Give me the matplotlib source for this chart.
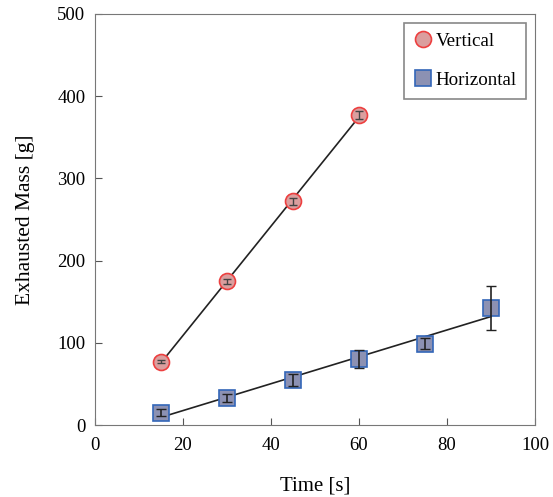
import numpy as np
import matplotlib
matplotlib.use('Agg')
import matplotlib.pyplot as plt

plt.rcParams['font.family'] = ['Liberation Serif', 'DejaVu Serif']

# data
vert_t = [15, 30, 45, 60]
vert_m = [77, 175, 272, 377]
vert_err = [2, 3, 4, 5]

horiz_t = [15, 30, 45, 60, 75, 90]
horiz_m = [15, 33, 55, 80, 99, 142]
horiz_err = [4, 5, 7, 11, 7, 27]

fig = plt.figure(figsize=(5.53, 4.97), dpi=100)
ax = fig.add_axes([95 / 553, 72 / 497, 440 / 553, 411 / 497])

# linear fits
for t, m in [(vert_t, vert_m), (horiz_t, horiz_m)]:
    k, b = np.polyfit(t, m, 1)
    tt = np.array([t[0], t[-1]])
    ax.plot(tt, k * tt + b, color='#222222', lw=1.2, zorder=2)

ax.plot(vert_t, vert_m, 'o', ms=11.5, mfc=(0.86, 0.62, 0.62),
        mec=(0.93, 0.25, 0.25), mew=1.2, zorder=3, label='Vertical')
ax.plot(horiz_t, horiz_m, 's', ms=11, mfc=(0.55, 0.57, 0.7),
        mec=(0.2, 0.4, 0.72), mew=1.2, zorder=3, label='Horizontal')

# error bars drawn over the markers
ax.errorbar(vert_t, vert_m, yerr=vert_err, fmt='none', ecolor='#444444',
            elinewidth=1, capsize=3, zorder=4)
ax.errorbar(horiz_t, horiz_m, yerr=horiz_err, fmt='none', ecolor='#222222',
            elinewidth=1.2, capsize=3.5, zorder=4)

ax.set_xlim(0, 100)
ax.set_ylim(0, 500)
ax.set_xticks([0, 20, 40, 60, 80, 100])
ax.set_yticks([0, 100, 200, 300, 400, 500])
ax.tick_params(direction='in', labelsize=13.5, color='#555555', length=5)
ax.tick_params(axis='x', pad=9)
ax.tick_params(axis='y', pad=7)
for s in ax.spines.values():
    s.set_color('#777777')
ax.set_xlabel('Time [s]', fontsize=15, labelpad=16)
ax.set_ylabel('Exhausted Mass [g]', fontsize=15.5, labelpad=16)

leg = ax.legend(loc='upper right', fontsize=13.7,
                fancybox=False, edgecolor='#888888', framealpha=1,
                borderpad=0.5, labelspacing=1.15, handletextpad=0.15,
                handlelength=1.0, borderaxespad=0,
                bbox_to_anchor=(0.98, 0.978))
leg.get_frame().set_linewidth(1.2)

fig.savefig('out.png', dpi=100)
